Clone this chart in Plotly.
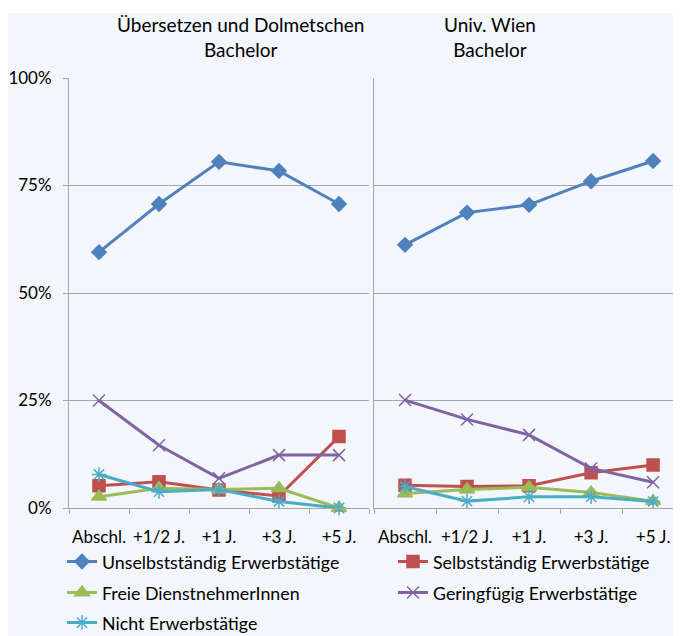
import plotly.graph_objects as go

categories = ["Abschl.", "+1/2 J.", "+1 J.", "+3 J.", "+5 J."]

series_names = [
    "Unselbstständig Erwerbstätige",
    "Selbstständig Erwerbstätige",
    "Freie DienstnehmerInnen",
    "Geringfügig Erwerbstätige",
    "Nicht Erwerbstätige",
]

# Übersetzen und Dolmetschen, Bachelor (values in %)
unselb_uedo = [59.5, 70.7, 80.5, 78.4, 70.7]
selb_uedo = [5.2, 6.1, 4.2, 2.8, 16.6]
freie_uedo = [2.6, 4.6, 4.3, 4.6, 0.0]
gering_uedo = [25.0, 14.6, 6.9, 12.3, 12.3]
nicht_uedo = [7.8, 3.8, 4.3, 1.5, 0.0]

# Univ. Wien, Bachelor (values in %)
unselb_uw = [61.2, 68.7, 70.5, 76.0, 80.7]
selb_uw = [5.3, 5.0, 5.2, 8.2, 10.0]
freie_uw = [3.4, 4.3, 4.8, 3.6, 1.6]
gering_uw = [25.1, 20.6, 17.0, 9.2, 6.0]
nicht_uw = [5.0, 1.6, 2.6, 2.6, 1.5]

y_ticks = [0, 25, 50, 75, 100]
y_ticklabels = ["0%", "25%", "50%", "75%", "100%"]

panel_titles = ["Übersetzen und Dolmetschen<br>Bachelor", "Univ. Wien<br>Bachelor"]

colors = ["#4F81BD", "#C0504D", "#9BBB59", "#8064A2", "#4BACC6"]
symbols = ["diamond", "square", "triangle-up", "x-thin-open", "asterisk-open"]
sizes = [11, 12, 13, 12, 12]
legend_ids = ["legend", "legend2", "legend3", "legend4", "legend5"]

FONT = "Lato, 'Liberation Sans', sans-serif"

# the page body adds an 8px offset; work in reference pixels and shift
OFF = 8
W, H = 760, 680
PL, PR, PT, PB = 69, 681, 78, 508  # plot area in reference pixels
PW, PH = PR - PL, PB - PT


def px(x):
    return (x - PL) / PW


def py(y):
    return (PB - y) / PH


fig = go.Figure()

left_data = [unselb_uedo, selb_uedo, freie_uedo, gering_uedo, nicht_uedo]
right_data = [unselb_uw, selb_uw, freie_uw, gering_uw, nicht_uw]

for i, name in enumerate(series_names):
    for panel, data in enumerate([left_data, right_data]):
        fig.add_trace(go.Scatter(
            x=categories, y=data[i], name=name, mode="lines+markers",
            line=dict(color=colors[i], width=3),
            marker=dict(symbol=symbols[i], size=sizes[i], color=colors[i],
                        line=dict(color=colors[i], width=1.5)),
            xaxis="x" if panel == 0 else "x2",
            yaxis="y" if panel == 0 else "y2",
            cliponaxis=False,
            showlegend=(panel == 0),
            legend=legend_ids[i],
        ))

grid = "#A6A6A6"

xcommon = dict(type="category", showgrid=False, showline=True, linecolor=grid,
               linewidth=1, ticks="outside", ticklen=5, tickcolor=grid,
               tickson="boundaries", tickangle=0, ticklabelstandoff=14,
               tickfont=dict(family=FONT, size=17, color="#000"),
               zeroline=False, fixedrange=True, automargin=False)
ycommon = dict(range=[0, 100], tickvals=y_ticks, showgrid=True, gridcolor=grid,
               gridwidth=1, showline=True, linecolor=grid, zeroline=False,
               fixedrange=True, automargin=False)

legend_common = dict(orientation="h", xanchor="left", yanchor="middle",
                     font=dict(family=FONT, size=17.8, color="#000"),
                     bgcolor="rgba(0,0,0,0)", itemwidth=30)

legend_pos = {
    "legend": (62, 562),
    "legend2": (393, 562),
    "legend3": (62, 593),
    "legend4": (393, 593),
    "legend5": (62, 623),
}

fig.update_layout(
    width=W, height=H,
    margin=dict(l=PL - OFF, r=W - (PR - OFF), t=PT - OFF, b=H - (PB - OFF), pad=0),
    paper_bgcolor="white",
    plot_bgcolor="white",
    font=dict(family=FONT, size=17, color="#000"),
    xaxis=dict(domain=[0, px(369)], range=[-0.5, 4.5], anchor="y", **xcommon),
    xaxis2=dict(domain=[px(374), 1.0], range=[-0.5, 4.45], anchor="y2", **xcommon),
    yaxis=dict(domain=[0, 1], anchor="x", ticktext=y_ticklabels, ticks="outside",
               ticklen=5, tickcolor=grid, ticklabelstandoff=8,
               tickfont=dict(family=FONT, size=17, color="#000"), **ycommon),
    yaxis2=dict(domain=[0, 1], anchor="x2", showticklabels=False, ticks="", **ycommon),
    shapes=[dict(type="rect", xref="paper", yref="paper", x0=px(6), x1=px(700), y0=py(700),
                 y1=py(13), fillcolor="#F3F6FB", line=dict(width=0), layer="below")],
    annotations=[
        dict(text=panel_titles[0], x=px(240), y=py(37), xref="paper", yref="paper",
             showarrow=False, font=dict(family=FONT, size=19, color="#000"), align="center",
             xanchor="center", yanchor="middle"),
        dict(text=panel_titles[1], x=px(490), y=py(37), xref="paper", yref="paper",
             showarrow=False, font=dict(family=FONT, size=19, color="#000"), align="center",
             xanchor="center", yanchor="middle"),
    ],
    **{lid: dict(x=px(lx), y=py(ly), **legend_common) for lid, (lx, ly) in legend_pos.items()},
)

fig.write_html("out.html")
